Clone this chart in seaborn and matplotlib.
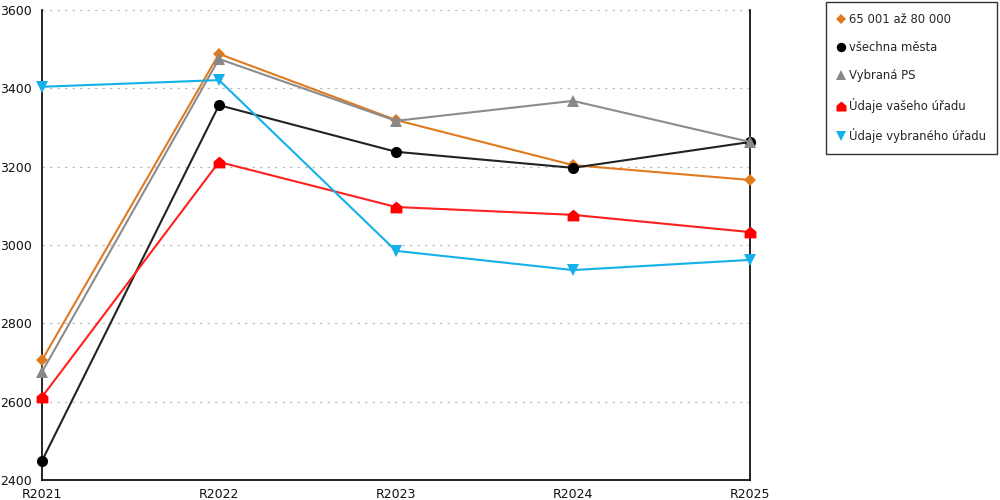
import matplotlib
matplotlib.use("Agg")
import matplotlib.pyplot as plt
from matplotlib.lines import Line2D
import seaborn as sns
import pandas as pd

categories = ["R2021", "R2022", "R2023", "R2024", "R2025"]
s_orange = [2706, 3488, 3319, 3204, 3166]
s_black = [2449, 3357, 3238, 3197, 3263]
s_gray = [2676, 3475, 3317, 3368, 3263]
s_red = [2612, 3212, 3097, 3077, 3033]
s_blue = [3404, 3421, 2985, 2936, 2962]
names = ["65 001 až 80 000", "všechna města", "Vybraná PS", "Údaje vašeho úřadu", "Údaje vybraného úřadu"]

house = [(-1, -1), (1, -1), (1, 0.15), (0, 1), (-1, 0.15), (-1, -1)]
styles = [
    dict(color="#E07A1F", marker="D", ms=6.5),
    dict(color="#000000", marker="o", ms=8),
    dict(color="#888888", marker="^", ms=8.5),
    dict(color="#FF0000", marker=house, ms=8.5),
    dict(color="#14B0EA", marker="v", ms=8.5),
]
linecolors = ["#E07A1F", "#222222", "#8C8C8C", "#FF2020", "#14B0EA"]

sns.set_style("white")
plt.rcParams["font.family"] = ["DejaVu Sans"]

fig = plt.figure(figsize=(10, 5), dpi=100)
ax = fig.add_axes([0.042, 0.04, 0.708, 0.94])

xs = list(range(len(categories)))
for name, vals, st, lc in zip(names, [s_orange, s_black, s_gray, s_red, s_blue], styles, linecolors):
    df = pd.DataFrame({"x": xs, "y": vals})
    sns.lineplot(data=df, x="x", y="y", ax=ax, color=lc, linewidth=1.5,
                 marker=st["marker"], markersize=st["ms"], markerfacecolor=st["color"],
                 markeredgecolor=st["color"], markeredgewidth=0, clip_on=False, zorder=3)

ax.set_xlim(0, 4)
ax.set_ylim(2400, 3600)
ax.set_xlabel("")
ax.set_ylabel("")
ax.set_xticks([0, 0.5, 1, 1.5, 2, 2.5, 3, 3.5, 4])
ax.set_xticklabels(["R2021", "", "R2022", "", "R2023", "", "R2024", "", "R2025"])
ax.set_yticks([2400, 2600, 2800, 3000, 3200, 3400, 3600])
ax.tick_params(axis="x", direction="inout", length=9, width=1, labelsize=9, pad=1, colors="black")
ax.tick_params(axis="y", direction="out", length=6, width=1, labelsize=9, pad=1, colors="black")
for lbl in ax.get_xticklabels() + ax.get_yticklabels():
    lbl.set_color("#111111")
ax.yaxis.grid(True, color="#C0C0C0", linestyle=(0, (2, 4)), linewidth=0.9)
ax.xaxis.grid(False)
for side in ["left", "bottom", "right"]:
    ax.spines[side].set_visible(True)
    ax.spines[side].set_color("black")
    ax.spines[side].set_linewidth(1.2)
ax.spines["top"].set_visible(False)

handles = [Line2D([0], [0], linestyle="none", marker=st["marker"], markersize=st["ms"] * 0.85,
                  markerfacecolor=st["color"], markeredgewidth=0) for st in styles]
leg = fig.legend(handles, names, loc="upper right", bbox_to_anchor=(0.997, 0.996),
                 fontsize=8.4, frameon=True, fancybox=False, handlelength=0.7,
                 handletextpad=0.35, labelspacing=1.3, borderpad=0.95, borderaxespad=0)
leg.get_frame().set_edgecolor("black")
leg.get_frame().set_linewidth(1)

fig.savefig("out.png", dpi=100)
